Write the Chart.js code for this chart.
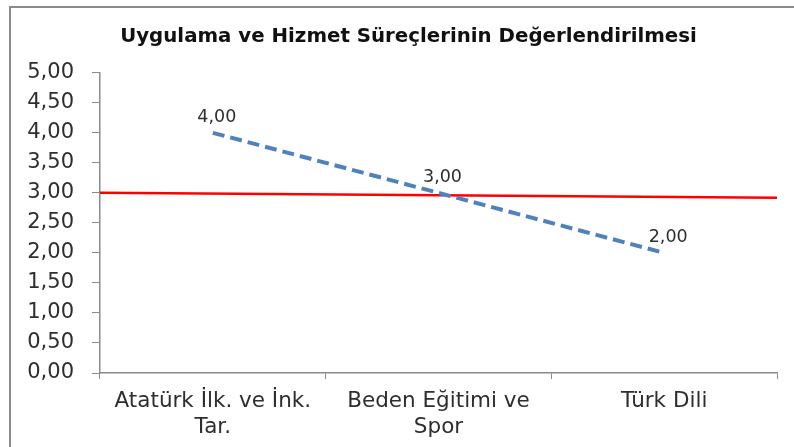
<!DOCTYPE html>
<html lang="tr">
<head>
<meta charset="UTF-8">
<title>Uygulama ve Hizmet Süreçlerinin Değerlendirilmesi</title>
<script src="https://cdn.jsdelivr.net/npm/chart.js@4.4.1/dist/chart.umd.min.js"></script>
<style>
  body { margin: 0; background: #fff; overflow: hidden; }
  #wrap { position: relative; width: 794px; height: 447px; }
  #frame { position: absolute; left: 9px; top: 6px; width: 900px; height: 600px;
           border: 2px solid #8a8a8a; pointer-events: none; }
  canvas { position: absolute; left: 0; top: 0; }
</style>
</head>
<body>
<div id="wrap">
  <div id="frame"></div>
  <canvas id="chart" width="794" height="447"></canvas>
</div>
<script>
const categories = [['Atatürk İlk. ve İnk.', 'Tar.'], ['Beden Eğitimi ve', 'Spor'], ['Türk Dili']];
const scores = [4.00, 3.00, 2.00];
// red reference line runs across the whole plot, slightly falling
const refLine = [{ x: 0, y: 3.00 }, { x: 1, y: 2.92 }];
const yTicks = [0, 0.5, 1, 1.5, 2, 2.5, 3, 3.5, 4, 4.5, 5];

const fmt = v => v.toFixed(2).replace('.', ',');
const axisColor = '#8a8a8a';
const textColor = '#2e2e2e';
const fontFamily = '"DejaVu Sans", sans-serif';

const pointLabels = {
  id: 'pointLabels',
  afterDatasetsDraw(chart) {
    const ctx = chart.ctx;
    const meta = chart.getDatasetMeta(0);
    ctx.save();
    ctx.font = '17.5px ' + fontFamily;
    ctx.fillStyle = textColor;
    ctx.textAlign = 'center';
    ctx.textBaseline = 'middle';
    meta.data.forEach((pt, i) => {
      ctx.fillText(fmt(scores[i]), pt.x + 4, pt.y - 15);
    });
    ctx.restore();
  }
};

// the title sits a little right of the canvas centre
const titleShift = {
  id: 'titleShift',
  afterLayout(chart) {
    if (chart.titleBlock) chart.titleBlock.left = 40;
  }
};

const ctx = document.getElementById('chart').getContext('2d');
new Chart(ctx, {
  type: 'line',
  data: {
    labels: categories,
    datasets: [
      {
        data: scores,
        borderColor: '#4F81BD',
        borderWidth: 4,
        borderDash: [12, 6],
        pointRadius: 0,
        tension: 0,
        xAxisID: 'x',
        order: 0
      },
      {
        data: refLine,
        borderColor: '#FF0000',
        borderWidth: 2.5,
        pointRadius: 0,
        xAxisID: 'x2',
        order: 1
      }
    ]
  },
  options: {
    responsive: false,
    animation: false,
    layout: { padding: { left: 0, right: 17, top: 0, bottom: 0 } },
    plugins: {
      legend: { display: false },
      tooltip: { enabled: false },
      title: {
        display: true,
        text: 'Uygulama ve Hizmet Süreçlerinin Değerlendirilmesi',
        color: '#111',
        font: { family: fontFamily, size: 19.8, weight: 'bold', lineHeight: 1.2 },
        padding: { top: 25, bottom: 24 }
      }
    },
    scales: {
      x: {
        type: 'category',
        offset: true,
        grid: { display: true, offset: true, drawOnChartArea: false, tickLength: 6, color: axisColor },
        border: { color: axisColor, width: 1.5 },
        ticks: { color: textColor, padding: 10, maxRotation: 0, autoSkip: false,
                 font: { family: fontFamily, size: 21.5, lineHeight: 1.2 } },
        afterFit(s) { s.height = 74; }
      },
      x2: {
        type: 'linear',
        display: false,
        min: 0,
        max: 1
      },
      y: {
        min: 0,
        max: 5,
        afterBuildTicks(s) { s.ticks = yTicks.map(v => ({ value: v })); },
        grid: { display: true, drawOnChartArea: false, tickLength: 8, color: axisColor },
        border: { color: axisColor, width: 1.5 },
        ticks: { color: textColor, padding: 18, callback: v => fmt(v),
                 font: { family: fontFamily, size: 21 } },
        afterFit(s) { s.width = 100; }
      }
    }
  },
  plugins: [pointLabels, titleShift]
});
</script>
</body>
</html>
